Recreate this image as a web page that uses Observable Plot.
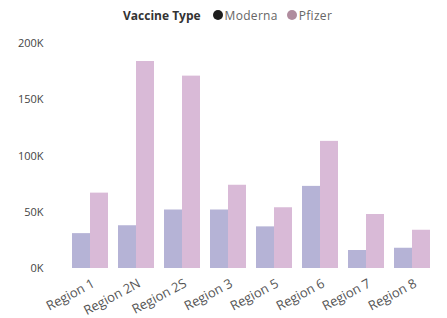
<!DOCTYPE html>
<html>
<head>
<meta charset="utf-8">
<script src="https://cdn.jsdelivr.net/npm/d3@7"></script>
<script src="https://cdn.jsdelivr.net/npm/@observablehq/plot@0.6"></script>
<style>
  body { margin: 0; background: #fff; font-family: "Open Sans", sans-serif; }
  #legend { height: 28px; display: flex; align-items: center; justify-content: flex-start; padding-left: 123px; font-size: 12px; color: #666; box-sizing: border-box; padding-top: 2px; white-space: nowrap; }
  #legend .title { font-weight: bold; color: #333; margin-right: 12px; }
  #legend .item { display: inline-flex; align-items: center; margin-right: 9px; letter-spacing: 0.3px; }
  #legend .dot { width: 10px; height: 10px; border-radius: 50%; display: inline-block; margin-right: 2px; }
</style>
</head>
<body>
<div id="legend"></div>
<div id="chart"></div>
<script>
const regions = ["Region 1", "Region 2N", "Region 2S", "Region 3", "Region 5", "Region 6", "Region 7", "Region 8"];
const types = ["Moderna", "Pfizer"];
const moderna = [31000, 38000, 52000, 52000, 37000, 73000, 16000, 18000];
const pfizer = [67000, 184000, 171000, 74000, 54000, 113000, 48000, 34000];
const yTicks = [0, 50000, 100000, 150000, 200000];
const barColors = ["#b5b3d6", "#d9bad7"];
const legendColors = ["#1e1e1e", "#b08c9e"];

const data = [];
regions.forEach((r, i) => {
  data.push({ region: r, type: "Moderna", value: moderna[i] });
  data.push({ region: r, type: "Pfizer", value: pfizer[i] });
});

const legend = document.getElementById("legend");
legend.innerHTML = `<span class="title">Vaccine Type</span>` +
  types.map((t, i) => `<span class="item"><span class="dot" style="background:${legendColors[i]}"></span>${t}</span>`).join("");

const chart = Plot.plot({
  width: 447,
  height: 290,
  marginLeft: 69,
  marginRight: 13,
  marginTop: 15,
  marginBottom: 50,
  style: { fontFamily: "Open Sans, sans-serif", fontSize: "11px", color: "#555", background: "#fff" },
  fx: { domain: regions, paddingInner: 0.215, paddingOuter: 0, label: null, axis: null },
  x: { domain: types, axis: null, padding: 0 },
  y: { domain: [0, 200000], label: null },
  color: { domain: types, range: barColors },
  marks: [
    Plot.barY(data, { fx: "region", x: "type", y: "value", fill: "type", inset: 0 }),
    Plot.axisY({ ticks: yTicks, tickFormat: d => d / 1000 + "K", tickSize: 0, tickPadding: 29, label: null, fill: "#444", fontSize: 11 }),
    Plot.axisFx({ anchor: "bottom", tickRotate: -28, tickSize: 0, tickPadding: 14, label: null, dx: 3, fill: "#555", fontSize: 13 })
  ]
});
document.getElementById("chart").appendChild(chart);
</script>
</body>
</html>
